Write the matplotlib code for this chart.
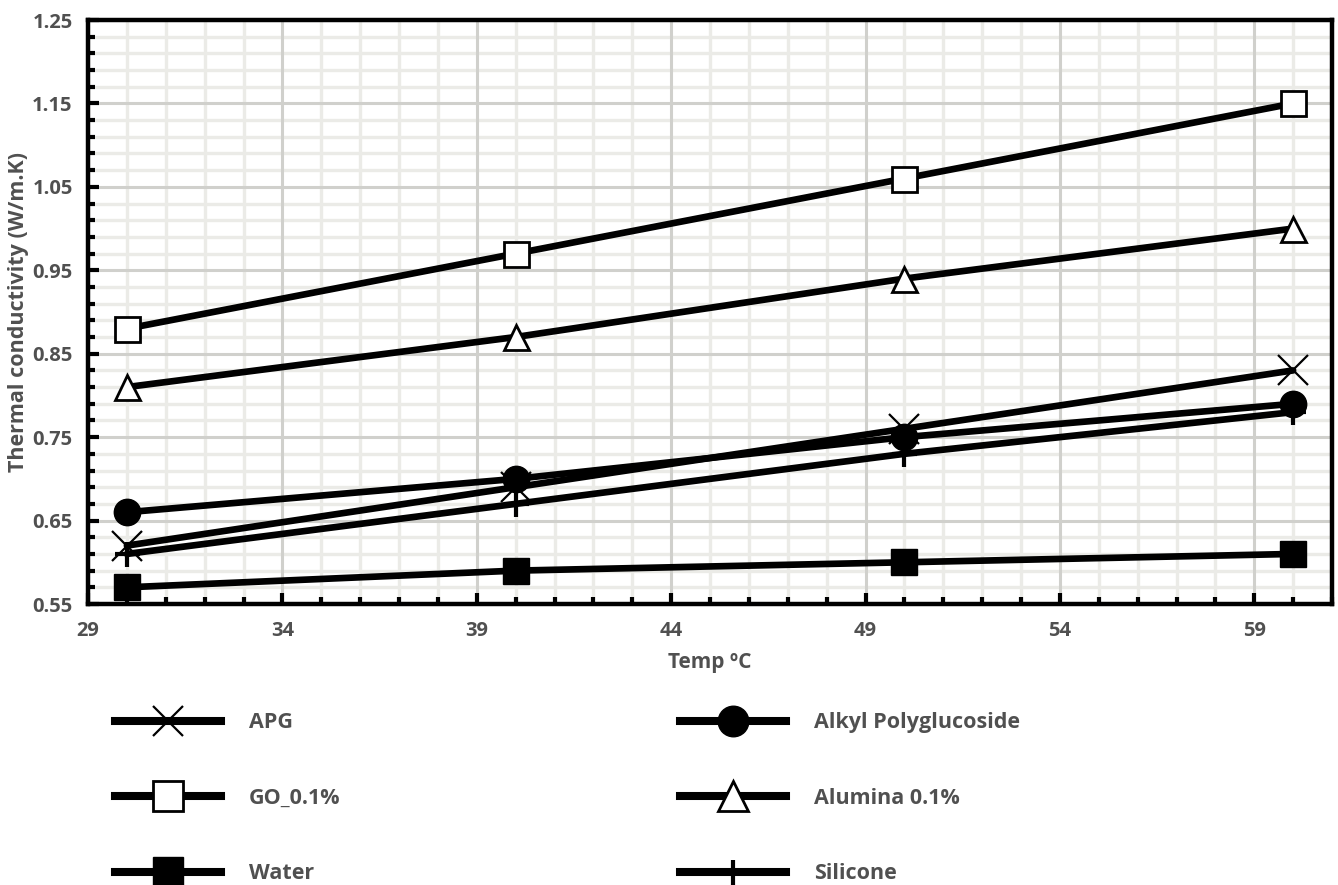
import matplotlib
matplotlib.use("Agg")
import matplotlib.pyplot as plt
from matplotlib.ticker import FixedLocator
from matplotlib.lines import Line2D

temps = [30, 40, 50, 60]
apg = [0.62, 0.69, 0.76, 0.83]
alkyl = [0.66, 0.70, 0.75, 0.79]
go = [0.88, 0.97, 1.06, 1.15]
alumina = [0.81, 0.87, 0.94, 1.00]
water = [0.57, 0.59, 0.60, 0.61]
silicone = [0.61, 0.67, 0.73, 0.78]

labels = ["APG", "Alkyl Polyglucoside", "GO_0.1%", "Alumina 0.1%", "Water", "Silicone"]
xticks = [29, 34, 39, 44, 49, 54, 59]
yticks = [0.55, 0.65, 0.75, 0.85, 0.95, 1.05, 1.15, 1.25]
xminor = list(range(29, 62))
yminor = [round(0.55 + 0.02 * i, 2) for i in range(36)]

plt.rcParams['font.family'] = ['Open Sans', 'DejaVu Sans']
txt = '#505050'

W, H = 1338, 885
fig = plt.figure(figsize=(W / 100, H / 100), dpi=100)
ax = fig.add_axes([88 / W, 1 - 604 / H, (1332 - 88) / W, (604 - 20) / H])

lw = 4.8
styles = {
    "APG": dict(marker='x', ms=21, mew=1.6, mfc='black', mec='black'),
    "Alkyl Polyglucoside": dict(marker='o', ms=19, mew=1, mfc='black', mec='black'),
    "GO_0.1%": dict(marker='s', ms=18, mew=2.0, mfc='white', mec='black'),
    "Alumina 0.1%": dict(marker='^', ms=18, mew=2.0, mfc='white', mec='black'),
    "Water": dict(marker='s', ms=19, mew=1, mfc='black', mec='black'),
    "Silicone": dict(marker='+', ms=18, mew=3.0, mfc='black', mec='black'),
}
leg_ms = {"APG": 22, "Alkyl Polyglucoside": 22, "GO_0.1%": 22,
          "Alumina 0.1%": 22, "Water": 22, "Silicone": 18}
series = {"APG": apg, "Alkyl Polyglucoside": alkyl, "GO_0.1%": go,
          "Alumina 0.1%": alumina, "Water": water, "Silicone": silicone}
order_draw = ["Silicone", "Water", "APG", "Alkyl Polyglucoside", "Alumina 0.1%", "GO_0.1%"]
for name in order_draw:
    ax.plot(temps, series[name], color='black', lw=lw, solid_capstyle='round',
            zorder=3, **styles[name])

ax.set_xlim(29, 61)
ax.set_ylim(0.55, 1.25)

# grid: minor first, major on top
ax.vlines([v for v in xminor if v not in xticks], 0.55, 1.25, color='#ebebe7', lw=2.4, zorder=0.5)
ax.hlines([v for v in yminor if v not in [round(t, 2) for t in yticks]], 29, 61, color='#ebebe7', lw=2.4, zorder=0.5)
ax.vlines(xticks, 0.55, 1.25, color='#d0d0cc', lw=2.2, zorder=0.6)
ax.hlines(yticks, 29, 61, color='#d0d0cc', lw=2.2, zorder=0.6)

ax.xaxis.set_major_locator(FixedLocator(xticks))
ax.xaxis.set_minor_locator(FixedLocator(xminor))
ax.yaxis.set_major_locator(FixedLocator(yticks))
ax.yaxis.set_minor_locator(FixedLocator(yminor))
ax.set_xticklabels([str(v) for v in xticks])
ax.set_yticklabels([f"{v:.2f}" for v in yticks])

for s in ax.spines.values():
    s.set_linewidth(3.2)
    s.set_color('black')
    s.set_zorder(4)
ax.tick_params(which='major', direction='in', length=8, width=3, color='black',
               labelsize=14.5, labelcolor=txt)
ax.tick_params(which='minor', direction='in', length=5, width=3, color='black')
ax.tick_params(axis='x', which='major', pad=12)
ax.tick_params(axis='y', which='major', pad=11)
for lab in ax.get_xticklabels() + ax.get_yticklabels():
    lab.set_fontweight('bold')

ax.set_xlabel("Temp ºC", fontsize=15, fontweight='bold', color=txt, labelpad=8)
ax.set_ylabel("Thermal conductivity (W/m.K)", fontsize=15.5, fontweight='bold', color=txt, labelpad=2)

def handle(name):
    st = dict(styles[name])
    st['ms'] = leg_ms[name]
    return Line2D([0], [0], color='black', lw=5.8, **st)

left = ["APG", "GO_0.1%", "Water"]
right = ["Alkyl Polyglucoside", "Alumina 0.1%", "Silicone"]
for names, xpos in [(left, 96 / W), (right, 661 / W)]:
    leg = fig.legend([handle(n) for n in names], names, loc='upper left',
                     bbox_to_anchor=(xpos, 1 - 693 / H), frameon=False,
                     handlelength=4.9, handletextpad=1.3, labelspacing=2.53,
                     prop=dict(family=['Open Sans', 'DejaVu Sans'], weight='bold', size=15.5))
    for t in leg.get_texts():
        t.set_color(txt)

fig.savefig("out.png", dpi=100)
